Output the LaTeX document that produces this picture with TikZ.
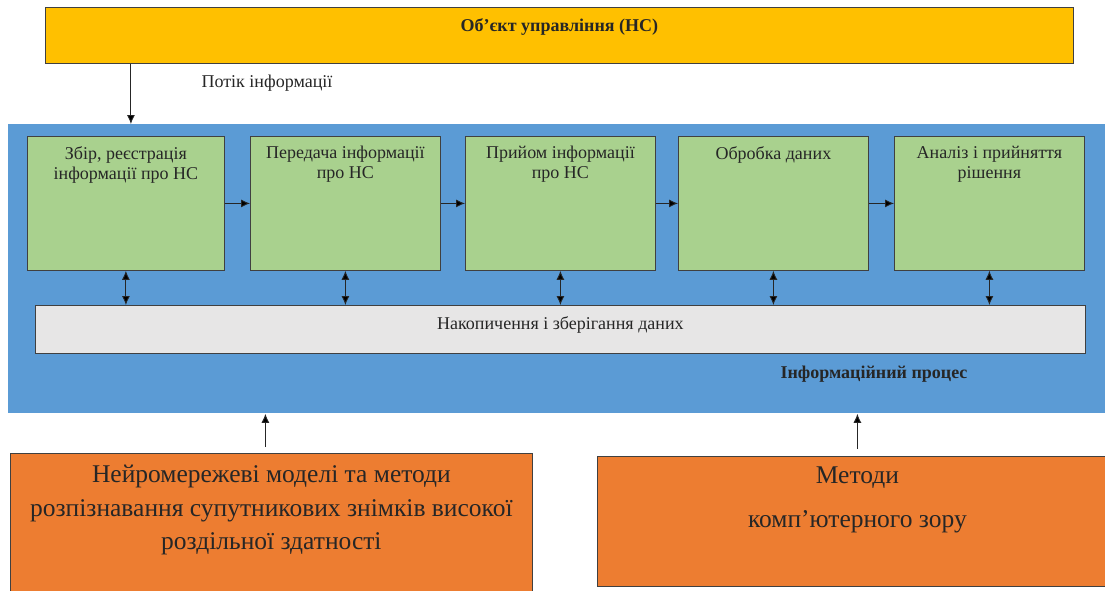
\documentclass[tikz,border=0pt]{standalone}
\usepackage{fontspec}
\setmainfont{Liberation Serif}
\usepackage{tikz}
\usetikzlibrary{arrows.meta}

\definecolor{objyellow}{HTML}{FFC000}
\definecolor{procblue}{HTML}{5B9BD5}
\definecolor{stepgreen}{HTML}{A9D18E}
\definecolor{storegray}{HTML}{E7E6E6}
\definecolor{methorange}{HTML}{ED7D31}
\definecolor{edgegray}{HTML}{404040}

\begin{document}
\begin{tikzpicture}[x=1pt, y=-1pt, >={Latex[length=9pt,width=8pt]},
    box/.style={draw=edgegray, line width=0.8pt, anchor=north west, inner sep=0pt},
    toptext/.style={anchor=north, align=center, inner sep=0pt, text=black!85},
    stepbox/.style={box, fill=stepgreen, minimum width=#1, minimum height=134},
    midfont/.style={font=\fontsize{18}{20}\selectfont},
    boldfont/.style={font=\fontsize{18}{20}\selectfont\bfseries},
    bigfont/.style={font=\fontsize{25.5}{33.5}\selectfont},
    flow/.style={draw=black!85, line width=0.9pt}]
            \useasboundingbox (0,0) rectangle (1105,590);
            \node[box, fill=objyellow, minimum width=1028, minimum height=56,
                label={[toptext, yshift=-11pt, boldfont]north:{Об'єкт управління (НС)}}] (obj) at (45,7) {};
            \node[midfont, text=black!85] (potik) at (267,83) {Потік інформації};
            \node[box, draw=none, fill=procblue, minimum width=1100, minimum height=289] (proc) at (8,124) {};
            % kroky informatsiinoho protsesu
            \node[stepbox=197, label={[toptext, yshift=-10pt, midfont]north:{Збір, реєстрація\\інформації про НС}}] (zbir) at (27,136) {};
            \node[stepbox=190, label={[toptext, yshift=-10pt, midfont]north:{Передача інформації\\про НС}}] (peredacha) at (250,136) {};
            \node[stepbox=190, label={[toptext, yshift=-10pt, midfont]north:{Прийом інформації\\про НС}}] (pryiom) at (465,136) {};
            \node[stepbox=190, label={[toptext, yshift=-10pt, midfont]north:{Обробка даних}}] (obrobka) at (678,136) {};
            \node[stepbox=190, label={[toptext, yshift=-10pt, midfont]north:{Аналіз і прийняття\\рішення}}] (analiz) at (894,136) {};
            \node[box, fill=storegray, minimum width=1050, minimum height=48,
                label={[toptext, yshift=-11pt, midfont]north:{Накопичення і зберігання даних}}] (store) at (35,305) {};
            \node[boldfont, text=black!85] (proclabel) at (874,374) {Інформаційний процес};
            % metody
            \node[box, fill=methorange, minimum width=522, minimum height=150,
                label={[toptext, yshift=-12pt, bigfont]north:{Нейромережеві моделі та методи\\розпізнавання супутникових знімків високої\\роздільної здатності}}] (neuro) at (10,453) {};
            \node[box, fill=methorange, minimum width=520, minimum height=130,
                label={[toptext, yshift=-11pt, bigfont]north:{Методи\\[10pt]комп’ютерного зору}}] (vision) at (597,456) {};
            \draw[flow] ([xshift=5pt]obj.south -| zbir) edge [->] ([xshift=5pt]proc.north -| zbir);
            \draw[flow] (zbir) edge [->] (peredacha);
            \draw[flow] (peredacha) edge [->] (pryiom);
            \draw[flow] (pryiom) edge [->] (obrobka);
            \draw[flow] (obrobka) edge [->] (analiz);
            \draw[flow] (zbir) edge [<->] (zbir |- store.north);
            \draw[flow] (peredacha) edge [<->] (peredacha |- store.north);
            \draw[flow] (pryiom) edge [<->] (pryiom |- store.north);
            \draw[flow] (obrobka) edge [<->] (obrobka |- store.north);
            \draw[flow] (analiz) edge [<->] (analiz |- store.north);
            \draw[flow] ([xshift=-6pt,yshift=6pt]neuro.north) edge [->] ([xshift=-6pt]neuro.north |- proc.south);
            \draw[flow] ([yshift=7pt]vision.north) edge [->] (vision.north |- proc.south);
        \end{tikzpicture}
\end{document}
